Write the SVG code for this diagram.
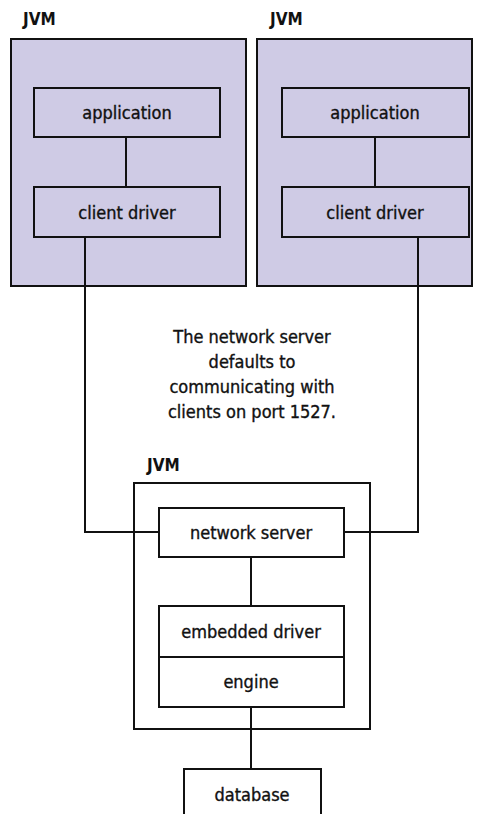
<svg xmlns="http://www.w3.org/2000/svg" width="483" height="814" viewBox="0 0 483 814">
<style>
text{font-family:"DejaVu Sans Condensed","Liberation Sans",Arial,sans-serif;font-size:18px;fill:#111;stroke:#111;stroke-width:0.35;text-anchor:middle}
.lbl{text-anchor:start;font-weight:bold;font-size:17px;stroke:none}
.jvm{fill:#cfcbe5;stroke:#111;stroke-width:2}
.box{fill:none;stroke:#111;stroke-width:2}
.wbox{fill:#fff;stroke:#111;stroke-width:2}
.ln{fill:none;stroke:#111;stroke-width:2}
</style>
<rect width="483" height="814" fill="#fff"/>
<g id="jvm-left">
<text class="lbl" x="23" y="25">JVM</text>
<rect class="jvm" x="11" y="39" width="235" height="247"/>
</g>
<g id="jvm-right">
<text class="lbl" x="270" y="25">JVM</text>
<rect class="jvm" x="257" y="39" width="215" height="247"/>
</g>
<g id="jvm-server">
<text class="lbl" x="147" y="471">JVM</text>
<rect class="box" x="134" y="483" width="236" height="246"/>
</g>
<g id="connectors">
<line class="ln" x1="126" y1="137" x2="126" y2="187"/>
<line class="ln" x1="375" y1="137" x2="375" y2="187"/>
<polyline class="ln" points="85,237 85,532 159,532"/>
<polyline class="ln" points="418,237 418,532 344,532"/>
<line class="ln" x1="251" y1="557" x2="251" y2="606"/>
<line class="ln" x1="251" y1="707" x2="251" y2="769"/>
</g>
<g id="app-left"><rect class="box" x="34" y="88" width="186" height="49"/><text x="127" y="119">application</text></g>
<g id="driver-left"><rect class="box" x="34" y="187" width="186" height="50"/><text x="127" y="219">client driver</text></g>
<g id="app-right"><rect class="box" x="282" y="88" width="187" height="49"/><text x="375" y="119">application</text></g>
<g id="driver-right"><rect class="box" x="282" y="187" width="187" height="50"/><text x="375" y="219">client driver</text></g>
<g id="note">
<text x="252" y="343">The network server</text>
<text x="252" y="368">defaults to</text>
<text x="252" y="393">communicating with</text>
<text x="252" y="418">clients on port 1527.</text>
</g>
<g id="network-server"><rect class="wbox" x="159" y="508" width="185" height="49"/><text x="251" y="539">network server</text></g>
<g id="embedded-driver"><rect class="wbox" x="159" y="606" width="185" height="51"/><text x="251" y="638">embedded driver</text></g>
<g id="engine"><rect class="wbox" x="159" y="657" width="185" height="50"/><text x="251" y="688">engine</text></g>
<g id="database"><path class="ln" d="M184,814 V769 H321 V814"/><text x="252" y="801">database</text></g>
</svg>
